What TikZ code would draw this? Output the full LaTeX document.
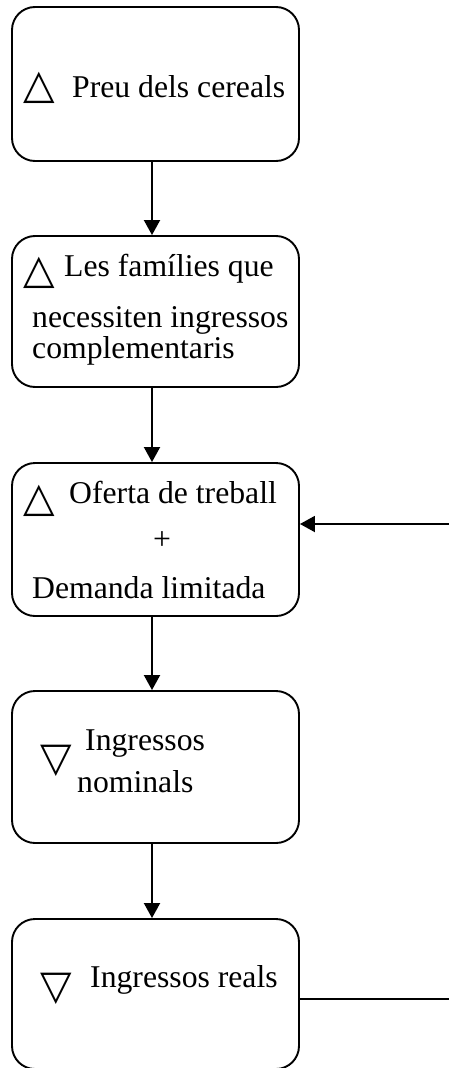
\documentclass[tikz,border=0pt]{standalone}
\usepackage{fontspec}
\setmainfont{Liberation Serif}
\newfontfamily\symfont{DejaVu Sans}
\usetikzlibrary{arrows.meta}
\begin{document}
\begin{tikzpicture}[x=1pt,y=-1pt,
  boxnode/.style={draw,line width=1.9pt,rounded corners=23pt,minimum width=287pt,inner sep=0pt},
  txt/.style={anchor=base west,inner sep=0pt,font=\fontsize{31.7}{36}\selectfont},
  tri/.style={anchor=base west,inner sep=0pt,font=\fontsize{41}{41}\symfont},
  conn/.style={line width=1.9pt,-{Triangle[length=15pt,width=16pt]}},
  link/.style={line width=1.9pt}
]
\useasboundingbox (0,0) rectangle (448,1068);
\node[boxnode,minimum height=154pt] (b1) at (155.5,84) {};
\node[boxnode,minimum height=151pt] (b2) at (155.5,311.5) {};
\node[boxnode,minimum height=153pt] (b3) at (155.5,539.5) {};
\node[boxnode,minimum height=152pt] (b4) at (155.5,767) {};
\node[boxnode,minimum height=150pt] (b5) at (155.5,994) {};

\node[tri] (t1) at (23.5,98) {△};
\node[txt] (l1) at (72,97) {Preu dels cereals};

\node[tri] (t2) at (23.5,283) {△};
\node[txt] (l2a) at (64,276) {Les famílies que};
\node[txt] (l2b) at (32,327) {necessiten ingressos};
\node[txt] (l2c) at (32,358) {complementaris};

\node[tri] (t3) at (23.5,511) {△};
\node[txt] (l3a) at (69,503) {Oferta de treball};
\node[txt,anchor=base] (l3b) at (162,549) {+};
\node[txt] (l3c) at (32,598) {Demanda limitada};

\node[tri] (t4) at (40.5,771) {▽};
\node[txt] (l4a) at (85,750) {Ingressos};
\node[txt] (l4b) at (77,792) {nominals};

\node[tri] (t5) at (40.5,999) {▽};
\node[txt] (l5) at (90,987) {Ingressos reals};

\draw[conn] ([xshift=-3.5pt]b1.south) -- ([xshift=-3.5pt]b2.north);
\draw[conn] ([xshift=-3.5pt]b2.south) -- ([xshift=-3.5pt]b3.north);
\draw[conn] ([xshift=-3.5pt]b3.south) -- ([xshift=-3.5pt]b4.north);
\draw[conn] ([xshift=-3.5pt]b4.south) -- ([xshift=-3.5pt]b5.north);

\coordinate (r1) at (452,999);
\coordinate (r2) at (452,524);
\draw[link] (b5.east |- r1) -- (r1) -- (r2);
\draw[conn] (r2) -- (b3.east |- r2);
\end{tikzpicture}
\end{document}
